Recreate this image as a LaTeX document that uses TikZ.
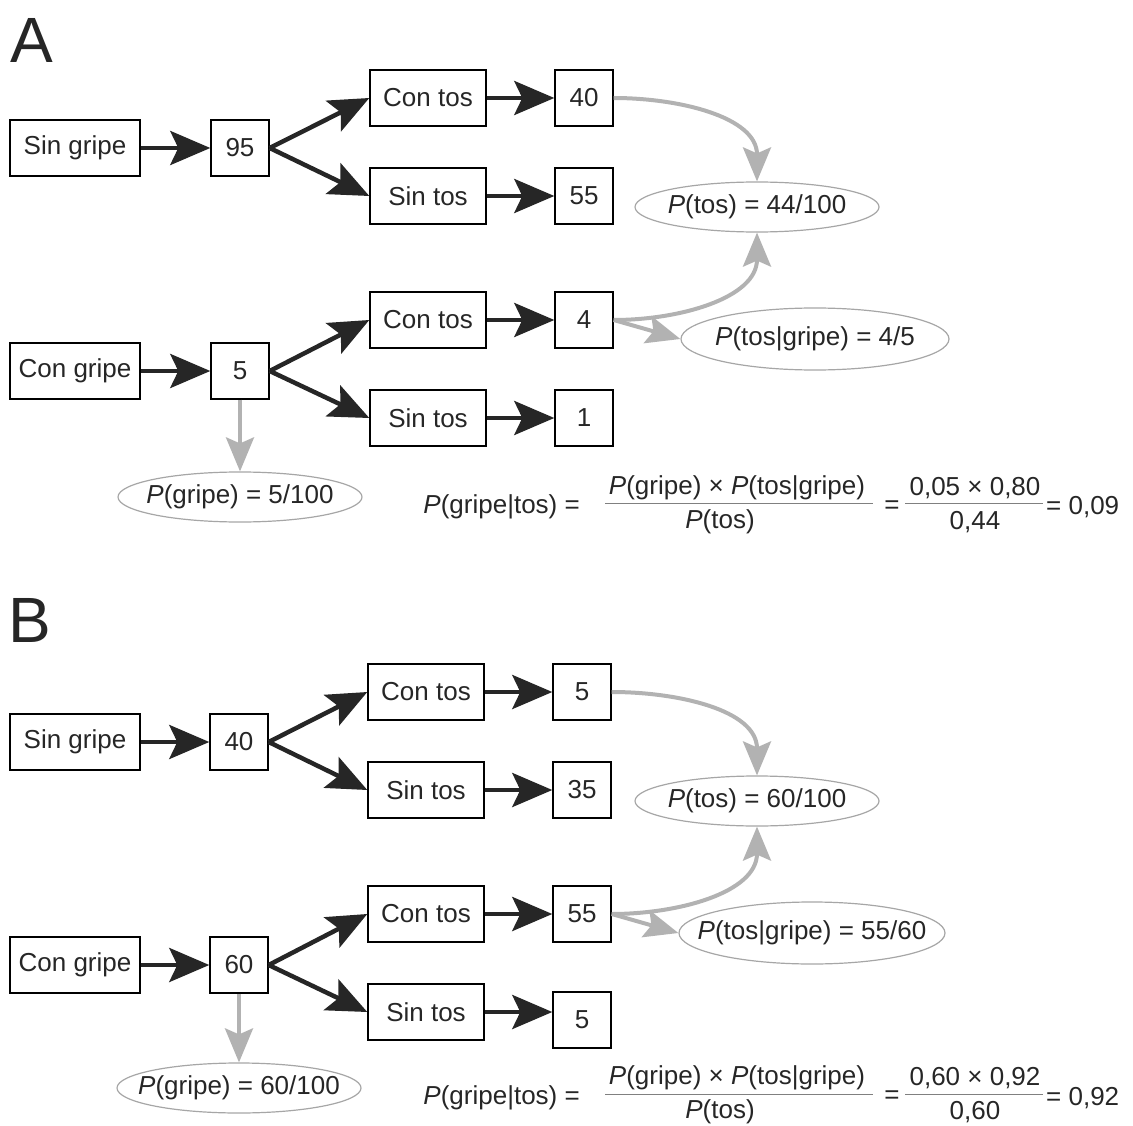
\documentclass[tikz,border=0pt]{standalone}
\usepackage{fontspec}
\setmainfont{Liberation Sans}
\usetikzlibrary{arrows.meta,shapes.geometric}
\newcommand\tam{\fontsize{26}{30}\selectfont}
\tikzset{
  caja/.style={draw, line width=1.4pt, minimum height=56pt, inner sep=0pt, text=black!85, font=\tam},
  ancha/.style={caja, minimum width=130pt},
  media/.style={caja, minimum width=116pt},
  num/.style={caja, minimum width=58pt},
  prob/.style={ellipse, draw=black!35, line width=1.2pt, fill=white, inner xsep=-40pt, inner ysep=-6pt, text=black!85, font=\tam},
  txt/.style={inner sep=0pt, text=black!85, font=\tam},
  flecha/.style={line width=4.5pt, draw=black!85, -{Stealth[length=40pt,width=34pt,inset=8pt]}},
  gris/.style={line width=4pt, draw=black!30, -{Stealth[length=34pt,width=28pt,inset=6pt]}},
  raya/.style={line width=1pt, draw=black!50}
}
\begin{document}
\begin{tikzpicture}[x=1pt,y=-1pt]
\useasboundingbox (0,0) rectangle (1133,1126);

% panel A
\node[txt, font=\fontsize{64}{64}\selectfont] (la) at (32,40) {A};
\node[ancha] (sga) at (75,148) {Sin gripe};
\node[num] (n1a) at (240,148) {95};
\node[media] (ct1a) at (428,98) {Con tos};
\node[media] (st1a) at (428,196) {Sin tos};
\node[num] (n2a) at (584,98) {40};
\node[num] (n3a) at (584,196) {55};
\node[ancha] (cga) at (75,371) {Con gripe};
\node[num] (n4a) at (240,371) {5};
\node[media] (ct2a) at (428,320) {Con tos};
\node[media] (st2a) at (428,418) {Sin tos};
\node[num] (n5a) at (584,320) {4};
\node[num] (n6a) at (584,418) {1};
\node[prob, minimum width=244pt, minimum height=50pt] (pta) at (757,207) {\textit{P}(tos) = 44/100};
\node[prob, minimum width=268pt, minimum height=62pt] (ptga) at (815,339) {\textit{P}(tos|gripe) = 4/5};
\node[prob, minimum width=244pt, minimum height=50pt] (pga) at (240,497) {\textit{P}(gripe) = 5/100};
\draw[flecha] (sga) -- (n1a);
\draw[flecha] (n1a.east) -- (ct1a.west);
\draw[flecha] (n1a.east) -- (st1a.west);
\draw[flecha] (ct1a) -- (n2a);
\draw[flecha] (st1a) -- (n3a);
\draw[flecha] (cga) -- (n4a);
\draw[flecha] (n4a.east) -- (ct2a.west);
\draw[flecha] (n4a.east) -- (st2a.west);
\draw[flecha] (ct2a) -- (n5a);
\draw[flecha] (st2a) -- (n6a);
\draw[gris] (n2a.east) to[out=0,in=90] (pta.north);
\draw[gris] (n5a.east) to[out=0,in=-90] (pta.south);
\draw[gris] (n5a.east) -- (ptga.west);
\draw[gris] (n4a.south) -- (pga.north);
% Bayes
\node[txt, anchor=east] (fa) at (580,507) {\textit{P}(gripe|tos) =};
\node[txt] (fa1) at (737,488) {\textit{P}(gripe) × \textit{P}(tos|gripe)};
\node[txt] (fa2) at (720,522) {\textit{P}(tos)};
\node[txt] (fa3) at (892,507) {=};
\node[txt] (fa4) at (975,488) {0,05 × 0,80};
\node[txt] (fa5) at (975,522) {0,44};
\node[txt, anchor=west] (fa6) at (1046,507) {= 0,09};
\draw[raya] (605,503) -- (873,503);
\draw[raya] (905,503) -- (1043,503);

% panel B
\begin{scope}[shift={(0,594)}]
\node[txt, font=\fontsize{64}{64}\selectfont] (lb) at (30,26) {B};
\node[ancha] (sgb) at (75,148) {Sin gripe};
\node[num] (n1b) at (239,148) {40};
\node[media] (ct1b) at (426,98) {Con tos};
\node[media] (st1b) at (426,196) {Sin tos};
\node[num] (n2b) at (582,98) {5};
\node[num] (n3b) at (582,196) {35};
\node[ancha] (cgb) at (75,371) {Con gripe};
\node[num] (n4b) at (239,371) {60};
\node[media] (ct2b) at (426,320) {Con tos};
\node[media] (st2b) at (426,418) {Sin tos};
\node[num] (n5b) at (582,320) {55};
\node[num] (n6b) at (582,426) {5};
\node[prob, minimum width=244pt, minimum height=50pt] (ptb) at (757,207) {\textit{P}(tos) = 60/100};
\node[prob, minimum width=266pt, minimum height=62pt] (ptgb) at (812,339) {\textit{P}(tos|gripe) = 55/60};
\node[prob, minimum width=244pt, minimum height=50pt] (pgb) at (239,494) {\textit{P}(gripe) = 60/100};
\draw[flecha] (sgb) -- (n1b);
\draw[flecha] (n1b.east) -- (ct1b.west);
\draw[flecha] (n1b.east) -- (st1b.west);
\draw[flecha] (ct1b) -- (n2b);
\draw[flecha] (st1b) -- (n3b);
\draw[flecha] (cgb) -- (n4b);
\draw[flecha] (n4b.east) -- (ct2b.west);
\draw[flecha] (n4b.east) -- (st2b.west);
\draw[flecha] (ct2b) -- (n5b);
\draw[flecha] (st2b.east) -- (n6b.west |- st2b.east);
\draw[gris] (n2b.east) to[out=0,in=90] (ptb.north);
\draw[gris] (n5b.east) to[out=0,in=-90] (ptb.south);
\draw[gris] (n5b.east) -- (ptgb.west);
\draw[gris] (n4b.south) -- (pgb.north);
% Bayes
\node[txt, anchor=east] (fb) at (580,504) {\textit{P}(gripe|tos) =};
\node[txt] (fb1) at (737,484) {\textit{P}(gripe) × \textit{P}(tos|gripe)};
\node[txt] (fb2) at (720,518) {\textit{P}(tos)};
\node[txt] (fb3) at (892,503) {=};
\node[txt] (fb4) at (975,484) {0,60 × 0,92};
\node[txt] (fb5) at (975,518) {0,60};
\node[txt, anchor=west] (fb6) at (1046,504) {= 0,92};
\draw[raya] (605,500) -- (873,500);
\draw[raya] (905,500) -- (1043,500);
\end{scope}
\end{tikzpicture}
\end{document}
